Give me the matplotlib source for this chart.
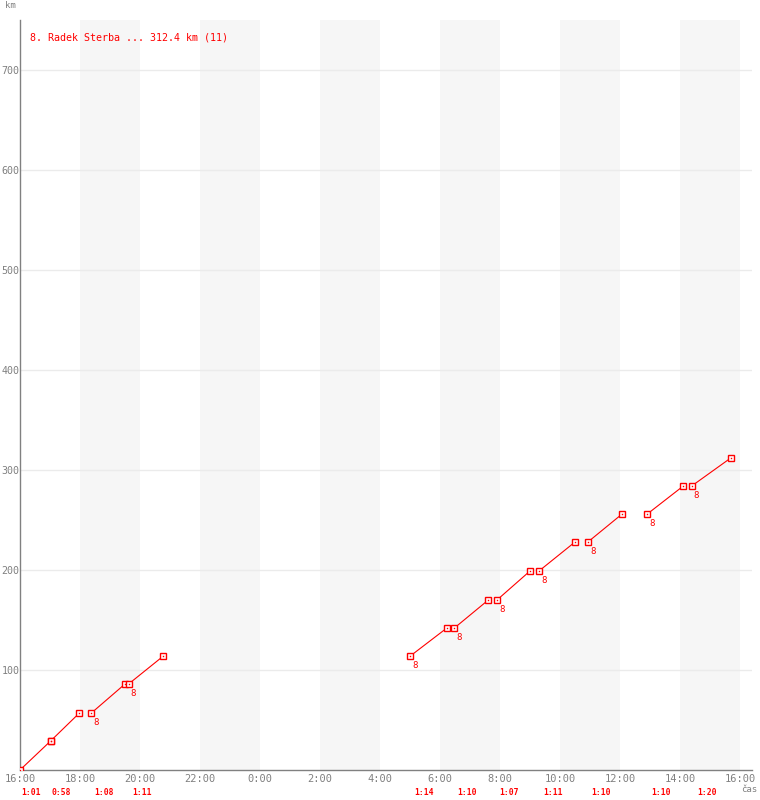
import matplotlib
matplotlib.use("Agg")
import matplotlib.pyplot as plt

# hours after 16:00 of the first day
lap_start = [0.0, 1.02, 2.38, 3.62, 13.01, 14.48, 15.90, 17.30, 18.93, 20.91, 22.39]
lap_end = [1.02, 1.98, 3.50, 4.78, 14.23, 15.61, 17.00, 18.50, 20.07, 22.11, 23.71]
km_start = [0, 29, 57, 86, 114, 142, 170, 199, 228, 256, 284]
km_end = [29, 57, 86, 114, 142, 170, 199, 228, 256, 284, 312.4]
lap_times = ["1:01", "0:58", "1:08", "1:11", "1:14", "1:10", "1:07", "1:11", "1:10", "1:10", "1:20"]
# laps that start after a stop get the rider number
restart = [False, False, True, True, True, True, True, True, True, True, True]
rider = "8"
legend = "8. Radek Sterba ... 312.4 km (11)"

hour_ticks = list(range(0, 25, 2))
hour_labels = ["16:00", "18:00", "20:00", "22:00", "0:00", "2:00", "4:00",
               "6:00", "8:00", "10:00", "12:00", "14:00", "16:00"]
km_ticks = [100, 200, 300, 400, 500, 600, 700]

red = "#ff0000"
grey = "#808080"
mono = "DejaVu Sans Mono"

fig = plt.figure(figsize=(7.6, 8), dpi=100)
ax = fig.add_axes([20 / 760, 30 / 800, 732 / 760, 750 / 800])
ax.set_xlim(0, 732 / 30)
ax.set_ylim(0, 750)

# two-hour shaded bands
for h in range(2, 24, 4):
    ax.axvspan(h, h + 2, color="#f6f6f6", lw=0, zorder=0)
for k in km_ticks:
    ax.axhline(k, color="#ebebeb", lw=1, zorder=1)

for i in range(len(lap_start)):
    ax.plot([lap_start[i], lap_end[i]], [km_start[i], km_end[i]], color=red, lw=0.8, zorder=3)
    for x, y in [(lap_start[i], km_start[i]), (lap_end[i], km_end[i])]:
        ax.plot(x, y, marker="s", ms=5, mfc="white", mec=red, mew=1, zorder=4)
        ax.plot(x, y, marker="s", ms=1, mfc=red, mec=red, mew=0, zorder=5)
    if restart[i]:
        ax.annotate(rider, (lap_start[i], km_start[i]), xytext=(3.5, -7), textcoords="offset points",
                    color=red, fontsize=6.5, family=mono, ha="center", va="center")
    mid = (lap_start[i] + lap_end[i]) / 2
    ax.annotate(lap_times[i], (mid, 0), xytext=(-3, -16.5), textcoords="offset points",
                color=red, fontsize=5.8, family=mono, weight="bold", ha="center", va="center",
                annotation_clip=False)

for s in ["top", "right"]:
    ax.spines[s].set_visible(False)
for s in ["left", "bottom"]:
    ax.spines[s].set_color(grey)
    ax.spines[s].set_linewidth(1)

ax.set_xticks(hour_ticks)
ax.set_xticklabels(hour_labels, family=mono, fontsize=7.5, color=grey)
ax.set_yticks(km_ticks)
ax.set_yticklabels([str(k) for k in km_ticks], family=mono, fontsize=7.2, color=grey)
ax.tick_params(axis="x", length=0, pad=3)
ax.tick_params(axis="y", length=0, pad=0.5)

fig.text(5 / 760, 1 - 6 / 800, "km", family=mono, fontsize=6.5, color=grey, va="center")
fig.text(741 / 760, 1 - 790 / 800, "čas", family=mono, fontsize=6.5, color=grey, va="center")
ax.text(10 / 732, 1 - 18 / 750, legend, transform=ax.transAxes, family=mono, fontsize=7.2,
        color=red, va="center")

fig.savefig("out.png", dpi=100)
